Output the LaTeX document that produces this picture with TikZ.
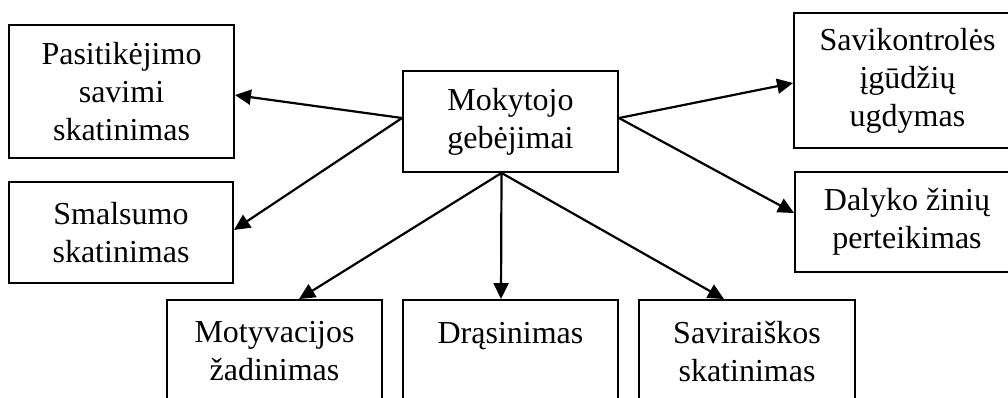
\documentclass[tikz,border=0pt]{standalone}
\usepackage{fontspec}
\setmainfont{Liberation Serif}
\usetikzlibrary{arrows.meta}
\tikzset{
  every picture/.style={line width=1.9pt},
  box/.style={draw, align=center, inner sep=4pt, font=\fontsize{32}{38}\selectfont},
  arrow/.style={-{Triangle[length=16pt, width=15pt]}, line width=2.2pt},
}

\begin{document}
\begin{tikzpicture}[x=1pt, y=-1pt]
  \useasboundingbox (0,0) rectangle (1008,397);
  \clip (0,0) rectangle (1008,397);
  % centre box
  \node[box, minimum width=215pt, minimum height=101pt] (mok) at (510.5,121.5) {Mokytojo\\ gebėjimai};
  % left side
  \node[box, minimum width=225pt, minimum height=133pt] (pas) at (121.5,91.5) {Pasitikėjimo\\ savimi\\ skatinimas};
  \node[box, minimum width=224pt, minimum height=101pt] (sma) at (121,232.5) {Smalsumo\\ skatinimas};
  % right side (cut by the page edge)
  \node[box, minimum width=227pt, minimum height=135pt] (sav) at (907.5,80.5) {Savikontrolės\\ įgūdžių\\ ugdymas};
  \node[box, minimum width=224pt, minimum height=100pt] (dal) at (907,222) {Dalyko žinių\\ perteikimas};
  % bottom row (cut by the page edge)
  \node[box, minimum width=215pt, minimum height=103pt] (mot) at (274.5,351.5) {Motyvacijos\\ žadinimas};
  \node[box, minimum width=215pt, minimum height=103pt, text height=22pt, text depth=38pt] (dra) at (510.5,351.5) {Drąsinimas};
  \node[box, minimum width=216pt, minimum height=103pt] (svr) at (747,351.5) {Saviraiškos\\ skatinimas};
  % arrows
  \draw[arrow] ([yshift=3.5pt]mok.west) -- ([yshift=-3.5pt]pas.east);
  \draw[arrow] ([yshift=3.5pt]mok.west) -- ([yshift=2.5pt]sma.east);
  \draw[arrow] ([yshift=3.5pt]mok.east) -- ([yshift=-2.5pt]sav.west);
  \draw[arrow] ([yshift=3.5pt]mok.east) -- ([yshift=9pt]dal.west);
  \draw[arrow] ([xshift=-9pt]mok.south) -- ([xshift=24.5pt]mot.north);
  \draw[arrow] ([xshift=-9pt]mok.south) -- ([xshift=-9.5pt]dra.north);
  \draw[arrow] ([xshift=-9pt]mok.south) -- ([xshift=-23pt]svr.north);
\end{tikzpicture}
\end{document}
